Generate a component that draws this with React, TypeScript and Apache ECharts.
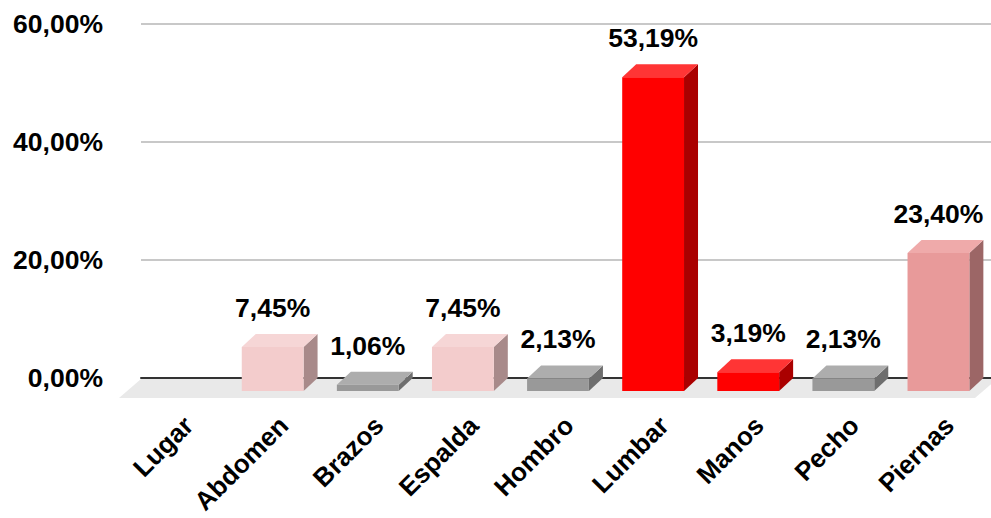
import React, { useEffect, useRef } from "react";
import * as echarts from "echarts";

const categories = ["Lugar", "Abdomen", "Brazos", "Espalda", "Hombro", "Lumbar", "Manos", "Pecho", "Piernas"];
const values: (number | null)[] = [null, 7.45, 1.06, 7.45, 2.13, 53.19, 3.19, 2.13, 23.4];
const frontColors = ["#ffffff", "#f3cccc", "#999999", "#f3cccc", "#999999", "#ff0000", "#ff0000", "#999999", "#e89a9a"];
const topColors = ["#ffffff", "#f6d6d6", "#adadad", "#f6d6d6", "#adadad", "#ff3535", "#ff3535", "#adadad", "#efaaaa"];
const sideColors = ["#ffffff", "#a88a8a", "#6e6e6e", "#a88a8a", "#6e6e6e", "#aa0000", "#aa0000", "#6e6e6e", "#9c6666"];
const yTicks = [0, 20, 40, 60];

const FONT = '"Liberation Sans", Arial, sans-serif';
const fmt = (v: number) => v.toFixed(2).replace(".", ",") + "%";

export default function App() {
  const ref = useRef<HTMLDivElement>(null);
  useEffect(() => {
    if (!ref.current) return;
    const chart = echarts.init(ref.current, null, { renderer: "svg" });
    const DX = -14;
    const DY = 13;
    const SHIFT = 3;
    chart.setOption({
      animation: false,
      backgroundColor: "#ffffff",
      grid: { left: 141, right: -6, top: 24, bottom: 140, containLabel: false, outerBoundsMode: "none" },
      xAxis: {
        type: "category",
        data: categories,
        boundaryGap: true,
        axisLine: { show: true, lineStyle: { color: "#333333", width: 2 } },
        axisTick: { show: false },
        axisLabel: {
          interval: 0,
          rotate: 45,
          margin: 43,
          color: "#000000",
          fontSize: 26,
          fontWeight: "bold",
          fontFamily: FONT,
        },
      },
      yAxis: {
        type: "value",
        min: yTicks[0],
        max: yTicks[yTicks.length - 1],
        interval: yTicks[1] - yTicks[0],
        axisLine: { show: false },
        axisTick: { show: false },
        splitLine: { lineStyle: { color: "#c8c8c8", width: 2 } },
        axisLabel: {
          margin: 38,
          color: "#000000",
          fontSize: 26.5,
          fontWeight: "bold",
          fontFamily: FONT,
          formatter: (v: number) => fmt(v),
        },
      },
      series: [
        {
          type: "custom",
          z: 1,
          silent: true,
          data: [[0, 0]],
          renderItem: (params: any, api: any) => {
            const cs = params.coordSys;
            const y0 = api.coord([0, 0])[1] + 1;
            return {
              type: "polygon",
              shape: {
                points: [
                  [cs.x, y0],
                  [cs.x + cs.width, y0],
                  [cs.x + cs.width - 22, y0 + 19],
                  [cs.x - 22, y0 + 19],
                ],
              },
              style: { fill: "#e9e9e9" },
            };
          },
        },
        {
          type: "custom",
          z: 3,
          silent: true,
          data: values.map((v, i) => [i, v === null ? "-" : v]),
          encode: { x: 0, y: 1 },
          renderItem: (params: any, api: any) => {
            const i = api.value(0);
            const v = api.value(1);
            if (v === null || isNaN(v)) return { type: "group", children: [] };
            const base = api.coord([i, 0]);
            const top = api.coord([i, v]);
            const band = api.size([1, 0])[0];
            const w = band * 0.65;
            const cx = base[0] + SHIFT;
            const bx0 = cx - w / 2;
            const bx1 = cx + w / 2;
            return {
              type: "group",
              children: [
                {
                  type: "polygon",
                  shape: {
                    points: [
                      [bx1 + DX, top[1] + DY],
                      [bx1, top[1]],
                      [bx1, base[1]],
                      [bx1 + DX, base[1] + DY],
                    ],
                  },
                  style: { fill: sideColors[i] },
                },
                {
                  type: "polygon",
                  shape: {
                    points: [
                      [bx0 + DX, top[1] + DY],
                      [bx1 + DX, top[1] + DY],
                      [bx1, top[1]],
                      [bx0, top[1]],
                    ],
                  },
                  style: { fill: topColors[i] },
                },
                {
                  type: "rect",
                  shape: { x: bx0 + DX, y: top[1] + DY, width: w, height: base[1] - top[1] },
                  style: { fill: frontColors[i] },
                },
                {
                  type: "text",
                  style: {
                    text: fmt(v),
                    x: cx + DX,
                    y: top[1] - 26,
                    align: "center",
                    verticalAlign: "middle",
                    fontSize: 26.5,
                    fontWeight: "bold",
                    fontFamily: FONT,
                    fill: "#000000",
                  },
                },
              ],
            };
          },
        },
      ],
    });
    return () => chart.dispose();
  }, []);
  return (
    <div
      ref={ref}
      style={{ position: "fixed", left: 0, top: 0, width: 991, height: 518, background: "#ffffff" }}
    />
  );
}
